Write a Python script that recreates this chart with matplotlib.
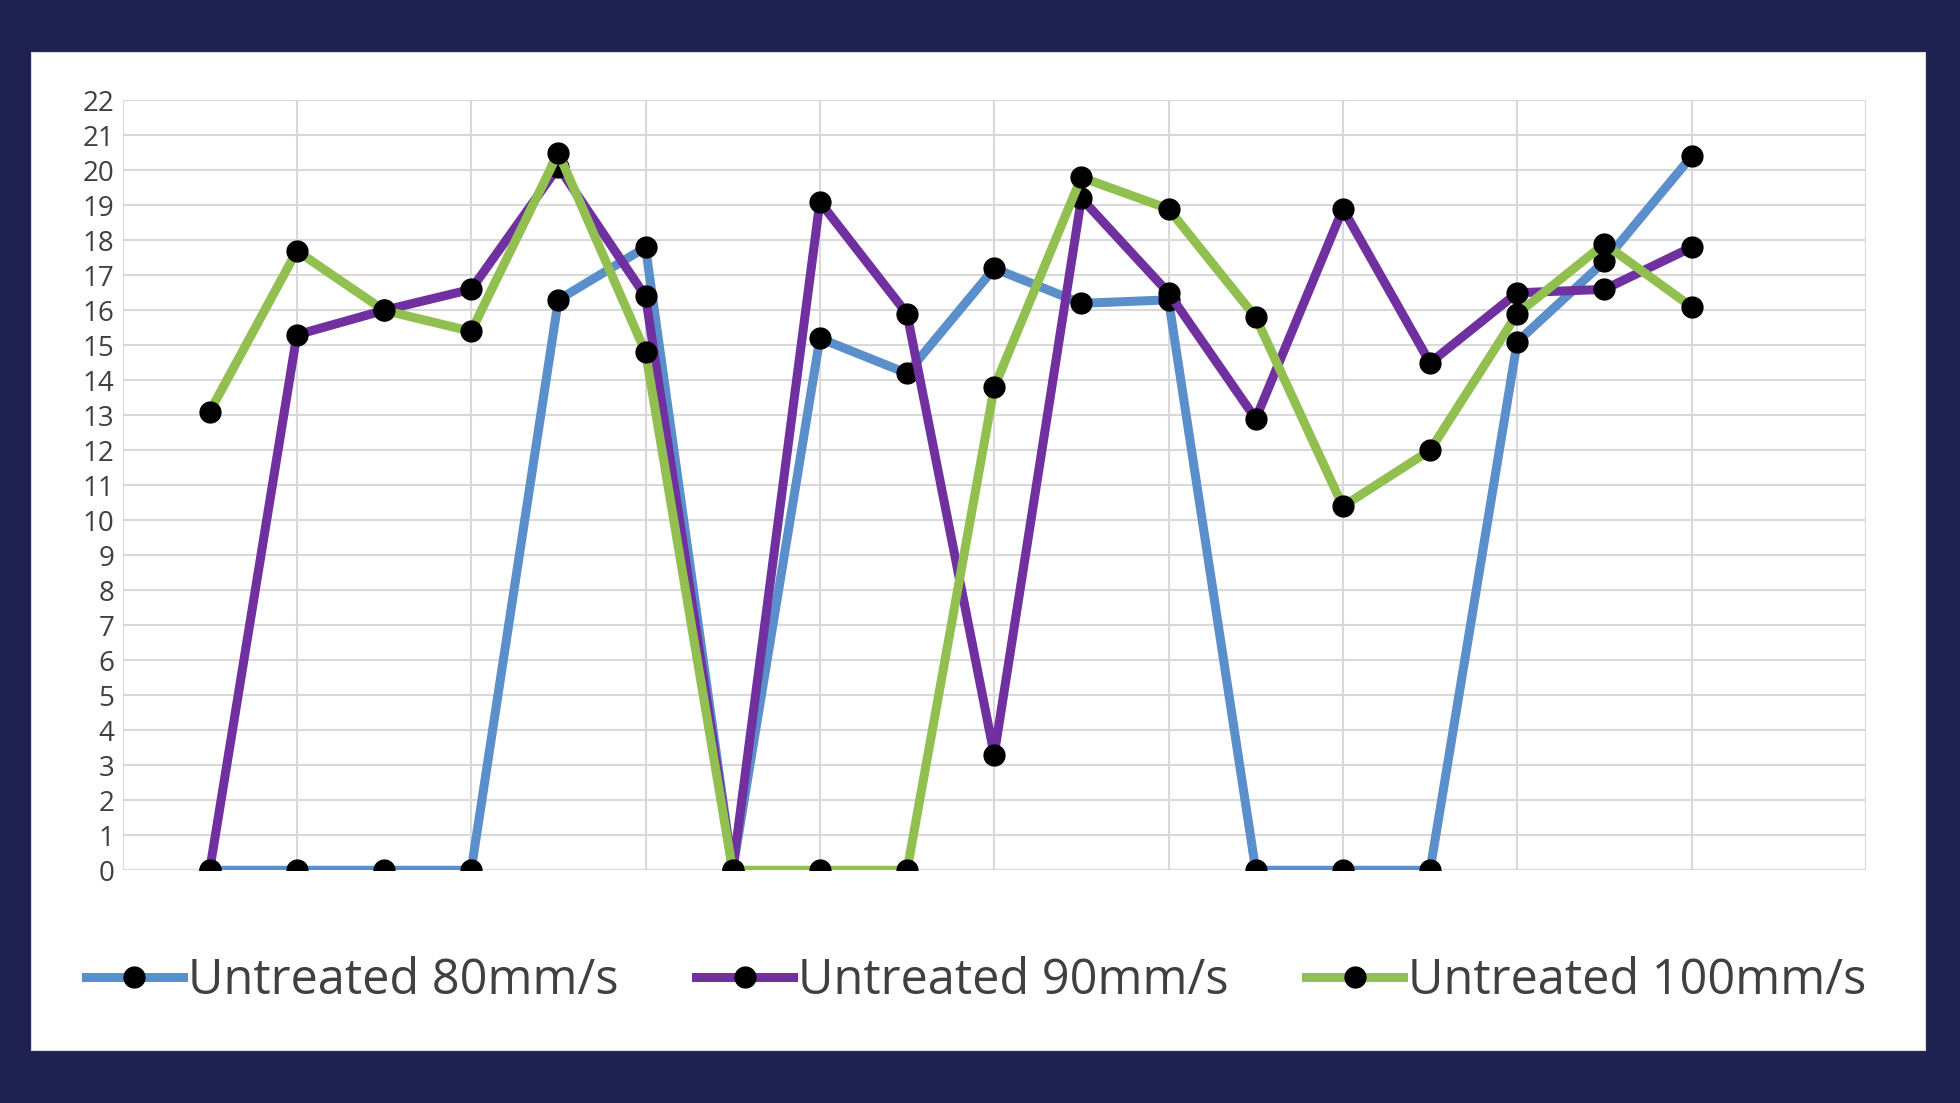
import matplotlib
matplotlib.use("Agg")
import matplotlib.pyplot as plt

x = list(range(1, 19))
s80 = [0, 0, 0, 0, 16.3, 17.8, 0, 15.2, 14.2, 17.2, 16.2, 16.3, 0, 0, 0, 15.1, 17.4, 20.4]
s90 = [0, 15.3, 16.0, 16.6, 20.1, 16.4, 0, 19.1, 15.9, 3.3, 19.2, 16.5, 12.9, 18.9, 14.5, 16.5, 16.6, 17.8]
s100 = [13.1, 17.7, 16.0, 15.4, 20.5, 14.8, 0, 0, 0, 13.8, 19.8, 18.9, 15.8, 10.4, 12.0, 15.9, 17.9, 16.1]
labels = ["Untreated 80mm/s", "Untreated 90mm/s", "Untreated 100mm/s"]
colors = ["#5b8fcb", "#7030a0", "#92c050"]

plt.rcParams['font.family'] = ['Open Sans', 'DejaVu Sans']
fig = plt.figure(figsize=(19.6, 11.03), dpi=100)
fig.patch.set_facecolor("#1f2150")
bg = fig.add_axes([0.016, 0.048, 0.966, 0.905], zorder=-1)
bg.set_facecolor("white")
bg.set_xticks([]); bg.set_yticks([])
for sp in bg.spines.values():
    sp.set_color("#d9d9d9")

ax = fig.add_axes([0.0625, 0.211, 0.8895, 0.698])
ax.set_facecolor("white")
for s, c, l in zip([s80, s90, s100], colors, labels):
    ax.plot(x, s, color=c, lw=6.5, marker="o", ms=15, mfc="black", mec="black", label=l, zorder=3)
ax.set_xlim(0, 20)
ax.set_ylim(0, 22)
ax.set_yticks(range(0, 23))
ax.set_xticks(range(0, 21, 2))
ax.set_xticklabels([])
ax.grid(True, color="#d9d9d9", lw=1.5)
ax.tick_params(length=0, labelsize=20, labelcolor="#404040", pad=6)
for sp in ax.spines.values():
    sp.set_visible(False)
ax.axhline(0, color="#d9d9d9", lw=1.5)
fig.legend(loc="center", bbox_to_anchor=(0.498, 0.11), ncol=3, frameon=False, fontsize=35,
           handlelength=2.0, columnspacing=1.6, handletextpad=0.1, labelcolor="#404040")
fig.savefig("out.png", dpi=100, facecolor=fig.get_facecolor())
